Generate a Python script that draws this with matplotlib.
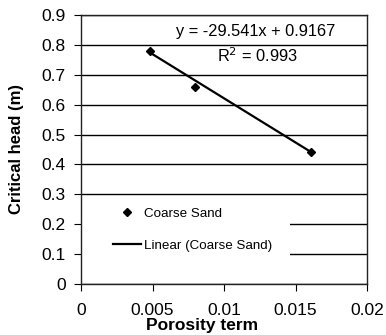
import numpy as np
import matplotlib
matplotlib.use("Agg")
import matplotlib.pyplot as plt
from matplotlib.patches import Rectangle

plt.rcParams["font.family"] = ["Liberation Sans", "DejaVu Sans"]

# data
porosity = [0.0048, 0.0080, 0.0161]
head     = [0.78, 0.66, 0.44]
slope, intercept = -29.541, 0.9167
r2 = 0.993

fig = plt.figure(figsize=(3.86, 3.35), dpi=100)
ax = fig.add_axes([81/386, 1-284/335, 286/386, 269/335])

# horizontal grid lines
ax.set_yticks(np.arange(0, 0.91, 0.1))
ax.set_yticklabels(["0", "0.1", "0.2", "0.3", "0.4", "0.5", "0.6", "0.7", "0.8", "0.9"])
ax.set_xticks([0, 0.005, 0.01, 0.015, 0.02])
ax.set_xticklabels(["0", "0.005", "0.01", "0.015", "0.02"])
ax.set_xlim(0, 0.02)
ax.set_ylim(0, 0.9)
ax.yaxis.grid(True, color="black", lw=1.0)
ax.set_axisbelow(True)

for s in ax.spines.values():
    s.set_color("#222222")
    s.set_linewidth(1.0)

ax.tick_params(axis="both", direction="out", length=5, width=0.8,
               labelsize=12.5, colors="black")
ax.tick_params(axis="x", pad=9)
ax.tick_params(axis="y", pad=6)

# white area behind the legend (hides the grid there)
ax.add_patch(Rectangle((0.003, 0.035), 0.727, 0.285, transform=ax.transAxes,
                       facecolor="white", edgecolor="none", zorder=1.5))

# trend line over the data range
xf = np.array([min(porosity), max(porosity)])
ax.plot(xf, slope * xf + intercept, color="black", lw=1.6, zorder=3,
        label="Linear (Coarse Sand)")
ax.plot(porosity, head, ls="none", marker="D", ms=4, color="black", zorder=4,
        label="Coarse Sand")

h, l = ax.get_legend_handles_labels()
ax.legend(h[::-1], l[::-1], loc="center left", bbox_to_anchor=(0.112, 0.2025),
          frameon=False, fontsize=9.6, handlelength=2.1, handletextpad=0.2,
          labelspacing=1.45, borderpad=0, borderaxespad=0)

ax.text(0.0122, 0.845, f"y = {slope}x + {intercept}", ha="center", va="center",
        fontsize=11.8)
ax.text(0.0123, 0.765, f"R$^2$ = {r2}", ha="center", va="center", fontsize=11.8)

ax.set_xlabel("Porosity term", fontsize=12.5, fontweight="bold")
ax.xaxis.set_label_coords(0.425, -0.125)
ax.set_ylabel("Critical head (m)", fontsize=12, fontweight="bold")
ax.yaxis.set_label_coords(-0.2, 0.5)

fig.savefig("out.png", dpi=100)
